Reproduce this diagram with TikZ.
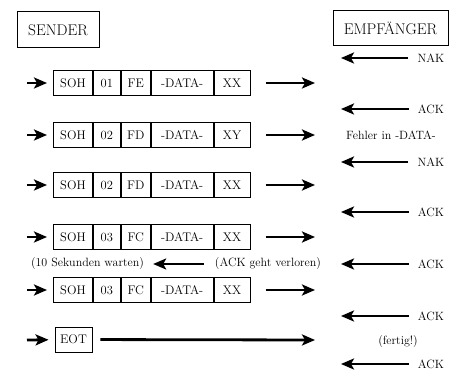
\documentclass[tikz,border=0pt]{standalone}
\usepackage{tikz}
\usetikzlibrary{arrows.meta,positioning}

\tikzset{
  head/.style={draw, line width=1pt, inner sep=0pt, font=\fontsize{15.5}{18}\selectfont},
  field/.style={draw, line width=0.9pt, minimum height=25pt, inner sep=0pt, font=\fontsize{12.5}{14}\selectfont},
  msg/.style={line width=2.8pt, -{Stealth[length=13pt,width=11pt,inset=3pt]}},
  note/.style={inner sep=1pt, font=\fontsize{12}{14}\selectfont},
}

\begin{document}
\begin{tikzpicture}[x=1pt,y=-1pt]
\useasboundingbox (0,0) rectangle (455,371);

\node[head, minimum width=82pt, minimum height=36pt] (sender) at (58,30) {SENDER};
\node[head, minimum width=115pt, minimum height=35pt] (receiver) at (390.5,28.5) {EMPFÄNGER};

% Datenblocks des Senders
\foreach \i/\y/\n/\c/\b in {1/83/01/FE/XX, 2/135/02/FD/XY, 3/185/02/FD/XX, 4/237/03/FC/XX, 5/290/03/FC/XX}{
  \node[field, minimum width=39pt, anchor=west] (soh\i) at (53,\y) {SOH};
  \node[field, minimum width=27pt, right=0pt of soh\i] (seq\i) {\n};
  \node[field, minimum width=29pt, right=0pt of seq\i] (chk\i) {\c};
  \node[field, minimum width=62pt, right=0pt of chk\i] (data\i) {-DATA-};
  \node[field, minimum width=36pt, right=0pt of data\i] (bcc\i) {\b};
  \coordinate (in\i) at (27,\y);
  \coordinate (out\i) at (315,\y);
  \draw[msg, shorten >=6pt] (in\i) -- (soh\i);
  \draw[msg, shorten <=15pt] (bcc\i) -- (out\i);
}

\node[field, minimum width=37pt] (eot) at (73.5,339.5) {EOT};
\coordinate (ineot) at (27,340);
\coordinate (outeot) at (315,340);
\draw[msg, shorten >=6pt] (ineot) -- (eot);
\draw[msg, shorten <=8pt] (eot) -- (outeot);

% Antworten des Empfaengers
\foreach \k/\y/\lab in {1/58/NAK, 2/109/ACK, 3/162/NAK, 4/212/ACK, 5/264/ACK, 6/316/ACK, 7/364/ACK}{
  \node[note] (ans\k) at (431,\y) {\lab};
  \coordinate (back\k) at (341,\y);
  \draw[msg, shorten <=8pt] (ans\k) -- (back\k);
}

\node[note] (error) at (391,135) {Fehler in -DATA-};
\node[note] (wait) at (87.5,264) {(10 Sekunden warten)};
\node[note] (lost) at (268,264) {(ACK geht verloren)};
\draw[msg, shorten <=10pt, shorten >=8pt] (lost) -- (wait);
\node[note] (done) at (398,342) {(fertig!)};
\end{tikzpicture}
\end{document}
